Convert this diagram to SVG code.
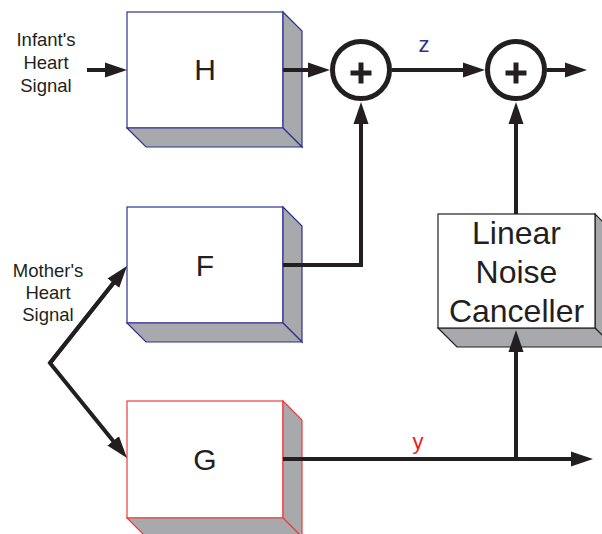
<svg xmlns="http://www.w3.org/2000/svg" width="602" height="534" viewBox="0 0 602 534">
<defs>
<style>
.lbl{font-family:"Liberation Sans",Arial,sans-serif;fill:#231f20;}
.small{font-size:18.5px;text-anchor:middle;}
.big{font-size:32px;text-anchor:middle;}
.letter{font-size:30px;text-anchor:middle;}
.front{fill:#fff;stroke-width:1.2;}
.side{fill:#a7a9ac;stroke-width:1.2;}
.blue{stroke:#2e3192;}
.red{stroke:#ee3b3b;}
.dark{stroke:#231f20;}
.wire{fill:none;stroke:#231f20;stroke-width:4;}
.sum circle{fill:#fff;stroke:#231f20;stroke-width:5;}
.sum path{stroke:#231f20;stroke-width:5;fill:none;}
</style>
<marker id="ah" markerUnits="userSpaceOnUse" markerWidth="22" markerHeight="16" refX="12" refY="8" orient="auto">
<path d="M0,0.5 L22,8 L0,15.5 z" fill="#231f20"/>
</marker>
</defs>
<rect width="602" height="534" fill="#fff"/>

<g id="H">
<rect class="front blue" x="127" y="12" width="156" height="116"/>
<polygon class="side blue" points="283,12 302,31 302,147 283,128"/>
<polygon class="side blue" points="127,128 283,128 302,147 146,147"/>
<text class="lbl letter" x="205" y="80">H</text>
</g>

<g id="F">
<rect class="front blue" x="127" y="207" width="156" height="116"/>
<polygon class="side blue" points="283,207 302,226 302,342 283,323"/>
<polygon class="side blue" points="127,323 283,323 302,342 146,342"/>
<text class="lbl letter" x="205" y="276">F</text>
</g>

<g id="G">
<rect class="front red" x="127" y="401" width="156" height="117"/>
<polygon class="side red" points="283,401 302,420 302,537 283,518"/>
<polygon class="side red" points="127,518 283,518 302,537 146,537"/>
<text class="lbl letter" x="205" y="470">G</text>
</g>

<g id="LNC">
<polygon class="side dark" points="595,214 614,233 614,347 595,328"/>
<polygon class="side dark" points="438,328 595,328 614,347 457,347"/>
<rect class="front dark" x="438" y="214" width="157" height="114"/>
<text class="lbl big" x="516.5" y="244">Linear</text>
<text class="lbl big" x="516.5" y="283">Noise</text>
<text class="lbl big" x="516.5" y="322">Canceller</text>
</g>

<g id="sum1" class="sum">
<circle cx="361" cy="70" r="28.5"/>
<path d="M350.5,73 H371.5 M361,62.5 V83.5"/>
</g>

<g id="sum2" class="sum">
<circle cx="516" cy="70" r="28.5"/>
<path d="M505.5,73 H526.5 M516,62.5 V83.5"/>
</g>

<g id="labels">
<text class="lbl small" x="46" y="46">Infant's</text>
<text class="lbl small" x="46" y="69">Heart</text>
<text class="lbl small" x="46" y="92">Signal</text>
<text class="lbl small" x="48" y="277">Mother's</text>
<text class="lbl small" x="48" y="299">Heart</text>
<text class="lbl small" x="48" y="321">Signal</text>
<text x="424" y="52" font-family="Liberation Sans,Arial,sans-serif" font-size="22" fill="#2e3192" text-anchor="middle">z</text>
<text x="418" y="449" font-family="Liberation Sans,Arial,sans-serif" font-size="22" fill="#ed1c24" text-anchor="middle">y</text>
</g>

<g id="connectors">
<line class="wire" x1="87" y1="70" x2="117" y2="70" marker-end="url(#ah)"/>
<line class="wire" x1="283" y1="70" x2="320" y2="70" marker-end="url(#ah)"/>
<line class="wire" x1="392" y1="70" x2="475" y2="70" marker-end="url(#ah)"/>
<line class="wire" x1="547" y1="70" x2="577" y2="70" marker-end="url(#ah)"/>
<polyline class="wire" points="283,265 361,265 361,112" marker-end="url(#ah)"/>
<line class="wire" x1="516" y1="214" x2="516" y2="112" marker-end="url(#ah)"/>
<polyline class="wire" points="120.8,273.8 50,363 120.7,450.2" marker-end="url(#ah)"/>
<line class="wire" x1="50" y1="363" x2="120.8" y2="273.8" marker-end="url(#ah)"/>
<line class="wire" x1="283" y1="459" x2="583" y2="459" marker-end="url(#ah)"/>
<line class="wire" x1="516" y1="459" x2="516" y2="340" marker-end="url(#ah)"/>
</g>
</svg>
